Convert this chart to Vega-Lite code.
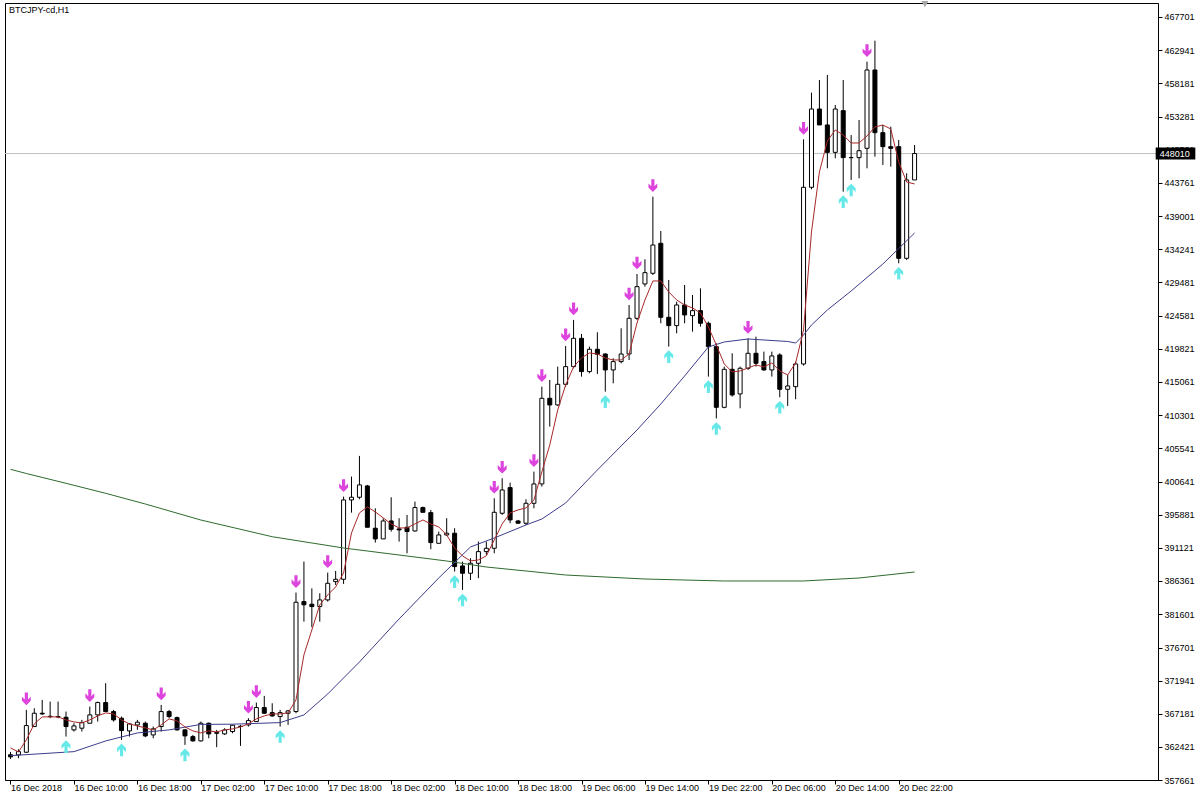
{
  "$schema": "https://vega.github.io/schema/vega-lite/v6.json",
  "width": 1153,
  "height": 777,
  "autosize": {"type": "none"},
  "padding": {"left": 5, "top": 3, "right": 46, "bottom": 20},
  "background": "#ffffff",
  "title": {"text": "BTCJPY-cd,H1", "anchor": "start", "frame": "group", "orient": "top", "offset": -14, "dx": 4, "fontSize": 9, "font": "Liberation Sans", "fontWeight": "normal", "color": "#000000"},
  "config": {"view": {"stroke": "#000000", "strokeWidth": 1}, "axis": {"grid": false, "labelOverlap": false}, "font": "Liberation Sans"},
  "datasets": {
    "candles": [
      {"i":0,"o":361300,"h":361700,"l":360700,"c":361000},
      {"i":1,"o":361280,"h":362100,"l":360800,"c":361760},
      {"i":2,"o":361665,"h":367770,"l":361600,"c":365510,"sig":"dn"},
      {"i":3,"o":365370,"h":368010,"l":365300,"c":367290},
      {"i":4,"o":367290,"h":369210,"l":367050,"c":367190},
      {"i":5,"o":366850,"h":368970,"l":366570,"c":366810},
      {"i":6,"o":366810,"h":368970,"l":366570,"c":366760},
      {"i":7,"o":366710,"h":367530,"l":363920,"c":365370,"sig":"up"},
      {"i":8,"o":364890,"h":365850,"l":364650,"c":365460},
      {"i":9,"o":365130,"h":366330,"l":364650,"c":365940},
      {"i":10,"o":365850,"h":368250,"l":365850,"c":367050,"sig":"dn"},
      {"i":11,"o":367050,"h":368970,"l":366090,"c":368830},
      {"i":12,"o":368830,"h":371620,"l":367530,"c":367530},
      {"i":13,"o":367530,"h":367770,"l":366090,"c":366330},
      {"i":14,"o":366570,"h":366810,"l":363440,"c":364790,"sig":"up"},
      {"i":15,"o":364740,"h":365850,"l":363920,"c":365750},
      {"i":16,"o":365600,"h":366330,"l":364890,"c":365990},
      {"i":17,"o":365850,"h":366090,"l":363830,"c":364020},
      {"i":18,"o":364160,"h":365370,"l":363680,"c":365030},
      {"i":19,"o":365370,"h":368490,"l":364650,"c":367530,"sig":"dn"},
      {"i":20,"o":367530,"h":367770,"l":366570,"c":366810},
      {"i":21,"o":366660,"h":366810,"l":364790,"c":364890},
      {"i":22,"o":364890,"h":364980,"l":362720,"c":364020,"sig":"up"},
      {"i":23,"o":363920,"h":364160,"l":363200,"c":363300},
      {"i":24,"o":363300,"h":366090,"l":363200,"c":365850},
      {"i":25,"o":365850,"h":365940,"l":363680,"c":364310},
      {"i":26,"o":364500,"h":364890,"l":362390,"c":364400},
      {"i":27,"o":364310,"h":365130,"l":364160,"c":364890},
      {"i":28,"o":364650,"h":365610,"l":364400,"c":365560},
      {"i":29,"o":365370,"h":365610,"l":362580,"c":365410},
      {"i":30,"o":365610,"h":366570,"l":365370,"c":366230,"sig":"dn"},
      {"i":31,"o":366090,"h":368830,"l":366090,"c":368110,"sig":"dn"},
      {"i":32,"o":368110,"h":369790,"l":367190,"c":367290},
      {"i":33,"o":367380,"h":368730,"l":366810,"c":366900},
      {"i":34,"o":366810,"h":367770,"l":365370,"c":367380,"sig":"up"},
      {"i":35,"o":367290,"h":367770,"l":365610,"c":367630},
      {"i":36,"o":367530,"h":384690,"l":367290,"c":383300,"sig":"dn"},
      {"i":37,"o":383390,"h":389160,"l":380500,"c":382930},
      {"i":38,"o":383010,"h":385300,"l":379700,"c":382670},
      {"i":39,"o":382670,"h":384590,"l":380500,"c":383630},
      {"i":40,"o":383630,"h":387570,"l":383390,"c":386030,"sig":"dn"},
      {"i":41,"o":386270,"h":387810,"l":385790,"c":386610},
      {"i":42,"o":386610,"h":398530,"l":385940,"c":398050,"sig":"dn"},
      {"i":43,"o":398050,"h":401420,"l":396220,"c":398440},
      {"i":44,"o":398440,"h":404400,"l":398150,"c":400220},
      {"i":45,"o":400070,"h":400220,"l":394110,"c":394110},
      {"i":46,"o":393970,"h":396850,"l":391900,"c":392430},
      {"i":47,"o":392430,"h":395410,"l":392430,"c":395020},
      {"i":48,"o":395020,"h":398440,"l":393490,"c":393820},
      {"i":49,"o":393870,"h":395410,"l":392040,"c":393730},
      {"i":50,"o":394110,"h":395890,"l":390360,"c":393490},
      {"i":51,"o":393580,"h":397810,"l":393490,"c":396950},
      {"i":52,"o":396950,"h":397090,"l":396270,"c":396270},
      {"i":53,"o":396220,"h":396610,"l":390940,"c":391900},
      {"i":54,"o":391800,"h":393490,"l":391800,"c":393000},
      {"i":55,"o":393000,"h":395410,"l":392860,"c":393250},
      {"i":56,"o":393250,"h":393970,"l":387720,"c":388440,"sig":"up"},
      {"i":57,"o":388530,"h":389160,"l":385070,"c":387480,"sig":"up"},
      {"i":58,"o":387480,"h":389640,"l":386510,"c":388920},
      {"i":59,"o":388920,"h":392040,"l":386760,"c":390600},
      {"i":60,"o":390600,"h":392040,"l":390120,"c":391080},
      {"i":61,"o":391080,"h":398290,"l":390360,"c":396270,"sig":"dn"},
      {"i":62,"o":396130,"h":401180,"l":395890,"c":399490,"sig":"dn"},
      {"i":63,"o":399830,"h":400550,"l":394690,"c":395170},
      {"i":64,"o":395020,"h":395170,"l":394690,"c":394690},
      {"i":65,"o":394690,"h":398150,"l":394450,"c":397570},
      {"i":66,"o":397570,"h":402140,"l":396850,"c":400360,"sig":"dn"},
      {"i":67,"o":400360,"h":414390,"l":399970,"c":412710,"sig":"dn"},
      {"i":68,"o":412710,"h":415360,"l":408630,"c":411750},
      {"i":69,"o":411750,"h":417280,"l":411610,"c":414730},
      {"i":70,"o":414730,"h":420260,"l":414390,"c":417280,"sig":"dn"},
      {"i":71,"o":417280,"h":424010,"l":417040,"c":421360,"sig":"dn"},
      {"i":72,"o":421360,"h":421990,"l":415830,"c":416560},
      {"i":73,"o":416560,"h":420160,"l":416320,"c":419780},
      {"i":74,"o":419780,"h":422230,"l":416220,"c":419060},
      {"i":75,"o":419100,"h":419200,"l":413670,"c":416800,"sig":"up"},
      {"i":76,"o":416800,"h":418480,"l":414870,"c":418000},
      {"i":77,"o":418000,"h":422810,"l":417760,"c":419100},
      {"i":78,"o":419100,"h":426170,"l":418240,"c":424250,"sig":"dn"},
      {"i":79,"o":424250,"h":430640,"l":424010,"c":428810,"sig":"dn"},
      {"i":80,"o":429200,"h":432760,"l":428810,"c":430830},
      {"i":81,"o":430740,"h":441790,"l":430500,"c":434820,"sig":"dn"},
      {"i":82,"o":435060,"h":436840,"l":423530,"c":424390},
      {"i":83,"o":424390,"h":429780,"l":420160,"c":423190,"sig":"up"},
      {"i":84,"o":423190,"h":426650,"l":422080,"c":426170},
      {"i":85,"o":426170,"h":429050,"l":423530,"c":424730},
      {"i":86,"o":424630,"h":427610,"l":422320,"c":425350},
      {"i":87,"o":425350,"h":428570,"l":423050,"c":423530},
      {"i":88,"o":423530,"h":423770,"l":415830,"c":420160,"sig":"up"},
      {"i":89,"o":420160,"h":420640,"l":409800,"c":411410,"sig":"up"},
      {"i":90,"o":411410,"h":417280,"l":411270,"c":416890},
      {"i":91,"o":416890,"h":419200,"l":412950,"c":413190},
      {"i":92,"o":413340,"h":417280,"l":411270,"c":417040},
      {"i":93,"o":417040,"h":421360,"l":416800,"c":419200,"sig":"dn"},
      {"i":94,"o":419200,"h":421600,"l":417280,"c":417760},
      {"i":95,"o":418000,"h":419440,"l":416700,"c":416800},
      {"i":96,"o":416800,"h":419440,"l":415840,"c":418820},
      {"i":97,"o":418960,"h":419200,"l":412860,"c":414010,"sig":"up"},
      {"i":98,"o":414010,"h":416080,"l":411610,"c":414490},
      {"i":99,"o":414390,"h":418000,"l":412570,"c":417660},
      {"i":100,"o":417660,"h":450060,"l":417420,"c":443140,"sig":"dn"},
      {"i":101,"o":443140,"h":456790,"l":442850,"c":454430},
      {"i":102,"o":454430,"h":458620,"l":452130,"c":452130},
      {"i":103,"o":452130,"h":459340,"l":445880,"c":448180},
      {"i":104,"o":448180,"h":455010,"l":447320,"c":454430},
      {"i":105,"o":454190,"h":458620,"l":442510,"c":447420,"sig":"up"},
      {"i":106,"o":447420,"h":450680,"l":444200,"c":447420,"sig":"up"},
      {"i":107,"o":447420,"h":452850,"l":444440,"c":448420},
      {"i":108,"o":448760,"h":461260,"l":445880,"c":460060,"sig":"dn"},
      {"i":109,"o":460060,"h":464290,"l":447560,"c":451020},
      {"i":110,"o":451020,"h":452130,"l":446360,"c":449000},
      {"i":111,"o":449000,"h":451890,"l":446120,"c":448760},
      {"i":112,"o":449000,"h":449960,"l":432180,"c":432900,"sig":"up"},
      {"i":113,"o":432900,"h":445160,"l":432660,"c":444200},
      {"i":114,"o":444200,"h":449240,"l":444200,"c":448010}
    ],
    "ma": [
      {"s":"green","i":0,"v":402470},{"s":"green","i":2,"v":401864},{"s":"green","i":7,"v":400451},{"s":"green","i":12,"v":399008},{"s":"green","i":17,"v":397465},{"s":"green","i":24,"v":395158},{"s":"green","i":33,"v":392749},{"s":"green","i":42,"v":391120},{"s":"green","i":50,"v":389966},{"s":"green","i":55,"v":389245},{"s":"green","i":60,"v":388379},{"s":"green","i":70,"v":387226},{"s":"green","i":80,"v":386649},{"s":"green","i":90,"v":386361},{"s":"green","i":100,"v":386361},{"s":"green","i":107,"v":386793},{"s":"green","i":114,"v":387658},
      {"s":"blue","i":0,"v":361174},{"s":"blue","i":8,"v":361751},{"s":"blue","i":12,"v":363294},{"s":"blue","i":16,"v":364448},{"s":"blue","i":20,"v":364886},{"s":"blue","i":24,"v":365679},{"s":"blue","i":28,"v":365708},{"s":"blue","i":34,"v":365939},{"s":"blue","i":37,"v":367040},{"s":"blue","i":40,"v":370069},{"s":"blue","i":44,"v":374684},{"s":"blue","i":49,"v":380885},{"s":"blue","i":54,"v":386797},{"s":"blue","i":58,"v":391268},{"s":"blue","i":61,"v":392566},{"s":"blue","i":65,"v":394440},{"s":"blue","i":67,"v":395300},{"s":"blue","i":70,"v":397613},{"s":"blue","i":74,"v":402372},{"s":"blue","i":79,"v":408140},{"s":"blue","i":82,"v":411890},{"s":"blue","i":85,"v":415928},{"s":"blue","i":88,"v":420110},{"s":"blue","i":90,"v":420831},{"s":"blue","i":93,"v":421264},{"s":"blue","i":98,"v":420903},{"s":"blue","i":99,"v":420687},{"s":"blue","i":100,"v":421841},{"s":"blue","i":101,"v":423283},{"s":"blue","i":103,"v":425446},{"s":"blue","i":106,"v":428186},{"s":"blue","i":110,"v":432080},{"s":"blue","i":114,"v":436551},
      {"s":"red","i":0,"v":362290},{"s":"red","i":1,"v":361713},{"s":"red","i":2,"v":363444},{"s":"red","i":3,"v":365751},{"s":"red","i":4,"v":366761},{"s":"red","i":5,"v":366761},{"s":"red","i":6,"v":366761},{"s":"red","i":7,"v":366328},{"s":"red","i":8,"v":366040},{"s":"red","i":9,"v":365896},{"s":"red","i":10,"v":366328},{"s":"red","i":11,"v":366905},{"s":"red","i":12,"v":367338},{"s":"red","i":13,"v":367194},{"s":"red","i":14,"v":366328},{"s":"red","i":15,"v":365751},{"s":"red","i":16,"v":365463},{"s":"red","i":17,"v":365174},{"s":"red","i":18,"v":364886},{"s":"red","i":19,"v":365607},
      {"s":"red","i":20,"v":366472},{"s":"red","i":21,"v":366184},{"s":"red","i":22,"v":365318},{"s":"red","i":23,"v":364741},{"s":"red","i":24,"v":364453},{"s":"red","i":25,"v":364741},{"s":"red","i":26,"v":364597},{"s":"red","i":27,"v":364886},{"s":"red","i":28,"v":365030},{"s":"red","i":29,"v":365318},{"s":"red","i":30,"v":365751},{"s":"red","i":31,"v":366472},{"s":"red","i":32,"v":366905},{"s":"red","i":33,"v":367194},{"s":"red","i":34,"v":367194},{"s":"red","i":35,"v":367338},{"s":"red","i":36,"v":369212},{"s":"red","i":37,"v":375701},{"s":"red","i":38,"v":379306},{"s":"red","i":39,"v":382911},
      {"s":"red","i":40,"v":384353},{"s":"red","i":41,"v":385507},{"s":"red","i":42,"v":387526},{"s":"red","i":43,"v":393294},{"s":"red","i":44,"v":396178},{"s":"red","i":45,"v":397043},{"s":"red","i":46,"v":396322},{"s":"red","i":47,"v":395457},{"s":"red","i":48,"v":394592},{"s":"red","i":49,"v":394015},{"s":"red","i":50,"v":394015},{"s":"red","i":51,"v":394592},{"s":"red","i":52,"v":395168},{"s":"red","i":53,"v":394592},{"s":"red","i":54,"v":394159},{"s":"red","i":55,"v":393006},{"s":"red","i":56,"v":391131},{"s":"red","i":57,"v":389978},{"s":"red","i":58,"v":389257},{"s":"red","i":59,"v":389400},
      {"s":"red","i":60,"v":389978},{"s":"red","i":61,"v":392285},{"s":"red","i":62,"v":394592},{"s":"red","i":63,"v":396178},{"s":"red","i":64,"v":396610},{"s":"red","i":65,"v":396899},{"s":"red","i":66,"v":398052},{"s":"red","i":67,"v":402090},{"s":"red","i":68,"v":405983},{"s":"red","i":69,"v":411030},{"s":"red","i":70,"v":414635},{"s":"red","i":71,"v":417231},{"s":"red","i":72,"v":418528},{"s":"red","i":73,"v":419249},{"s":"red","i":74,"v":419105},{"s":"red","i":75,"v":418528},{"s":"red","i":76,"v":418240},{"s":"red","i":77,"v":418240},{"s":"red","i":78,"v":419105},{"s":"red","i":79,"v":423575},
      {"s":"red","i":80,"v":426892},{"s":"red","i":81,"v":429632},{"s":"red","i":82,"v":429632},{"s":"red","i":83,"v":428046},{"s":"red","i":84,"v":426892},{"s":"red","i":85,"v":426171},{"s":"red","i":86,"v":425739},{"s":"red","i":87,"v":425018},{"s":"red","i":88,"v":423000},{"s":"red","i":89,"v":420404},{"s":"red","i":90,"v":417664},{"s":"red","i":91,"v":416510},{"s":"red","i":92,"v":416654},{"s":"red","i":93,"v":417087},{"s":"red","i":94,"v":417519},{"s":"red","i":95,"v":417231},{"s":"red","i":96,"v":417808},{"s":"red","i":97,"v":416654},{"s":"red","i":98,"v":416077},{"s":"red","i":99,"v":417808},
      {"s":"red","i":100,"v":422566},{"s":"red","i":101,"v":436698},{"s":"red","i":102,"v":445350},{"s":"red","i":103,"v":449820},{"s":"red","i":104,"v":451406},{"s":"red","i":105,"v":450685},{"s":"red","i":106,"v":449532},{"s":"red","i":107,"v":449532},{"s":"red","i":108,"v":450541},{"s":"red","i":109,"v":451839},{"s":"red","i":110,"v":452126},{"s":"red","i":111,"v":451550},{"s":"red","i":112,"v":446790},{"s":"red","i":113,"v":443908},{"s":"red","i":114,"v":443620}
    ],
    "bid": [{"p": 448010, "label": "448010"}]
  },
  "layer": [
    {
      "data": {"name": "bid"},
      "mark": {"type": "rule", "color": "#c0c0c0", "strokeWidth": 1},
      "encoding": {
        "y": {"field": "p", "type": "quantitative", "scale": {"domain": [357661, 469720], "nice": false, "zero": false},
          "axis": {"orient": "right", "values": [467701,462941,458181,453281,448521,443761,439001,434241,429481,424581,419821,415061,410301,405541,400641,395881,391121,386361,381601,376701,371941,367181,362421,357661], "tickCount": 40, "title": null, "tickSize": 4, "tickColor": "#000000", "domainColor": "#000000", "labelPadding": 2, "labelFontSize": 9, "labelFont": "Liberation Sans", "labelColor": "#000000", "labelBaseline": "middle", "labelFlush": false, "labelOverlap": false, "format": "d"}}
      }
    },
    {
      "data": {"name": "candles"},
      "mark": {"type": "rule", "color": "#000000", "strokeWidth": 1},
      "encoding": {
        "x": {"field": "i", "type": "quantitative", "scale": {"domain": [-0.0625, 144.0625], "nice": false, "zero": false},
          "axis": {"orient": "bottom", "values": [0,8,16,24,32,40,48,56,64,72,80,88,96,104,112], "tickCount": 40, "title": null, "tickSize": 4, "tickColor": "#000000", "domainColor": "#000000", "labelAlign": "left", "labelPadding": -1, "labelFontSize": 9, "labelFont": "Liberation Sans", "labelColor": "#000000", "labelFlush": false, "labelOverlap": false,
            "labelExpr": "['16 Dec 2018','16 Dec 10:00','16 Dec 18:00','17 Dec 02:00','17 Dec 10:00','17 Dec 18:00','18 Dec 02:00','18 Dec 10:00','18 Dec 18:00','19 Dec 06:00','19 Dec 14:00','19 Dec 22:00','20 Dec 06:00','20 Dec 14:00','20 Dec 22:00'][round(datum.value/8)]"}},
        "y": {"field": "l", "type": "quantitative"},
        "y2": {"field": "h"}
      }
    },
    {
      "data": {"name": "candles"},
      "mark": {"type": "bar", "width": 4, "stroke": "#000000", "strokeWidth": 1},
      "encoding": {
        "x": {"field": "i", "type": "quantitative"},
        "y": {"field": "o", "type": "quantitative"},
        "y2": {"field": "c"},
        "fill": {"condition": {"test": "datum.c >= datum.o", "value": "#ffffff"}, "value": "#000000"}
      }
    },
    {
      "data": {"name": "ma"},
      "mark": {"type": "line", "strokeWidth": 1, "interpolate": "linear"},
      "encoding": {
        "x": {"field": "i", "type": "quantitative"},
        "y": {"field": "v", "type": "quantitative"},
        "color": {"field": "s", "type": "nominal", "scale": {"domain": ["green", "blue", "red"], "range": ["#2e6b2e", "#3c3c8c", "#a82828"]}, "legend": null},
        "order": {"field": "i", "type": "quantitative"}
      }
    },
    {
      "data": {"name": "candles"},
      "transform": [{"filter": "datum.sig == 'dn'"}],
      "mark": {"type": "point", "filled": true, "size": 160, "yOffset": -11, "color": "#dd44dd", "opacity": 1,
        "shape": "M-0.25,-1 L0.25,-1 L0.25,0.1 L0.7,-0.35 L0.7,0.3 L0,1 L-0.7,0.3 L-0.7,-0.35 L-0.25,0.1 Z"},
      "encoding": {"x": {"field": "i", "type": "quantitative"}, "y": {"field": "h", "type": "quantitative"}}
    },
    {
      "data": {"name": "candles"},
      "transform": [{"filter": "datum.sig == 'up'"}],
      "mark": {"type": "point", "filled": true, "size": 160, "yOffset": 10, "color": "#66e8e8", "opacity": 1,
        "shape": "M-0.25,1 L0.25,1 L0.25,-0.1 L0.7,0.35 L0.7,-0.3 L0,-1 L-0.7,-0.3 L-0.7,0.35 L-0.25,-0.1 Z"},
      "encoding": {"x": {"field": "i", "type": "quantitative"}, "y": {"field": "l", "type": "quantitative"}}
    },
    {
      "data": {"name": "bid"},
      "mark": {"type": "rect", "color": "#000000", "clip": false},
      "encoding": {
        "x": {"datum": 144.4, "type": "quantitative"},
        "x2": {"datum": 149.4},
        "y": {"datum": 448880, "type": "quantitative"},
        "y2": {"datum": 447150}
      }
    },
    {
      "data": {"name": "bid"},
      "mark": {"type": "text", "color": "#ffffff", "font": "Liberation Sans", "fontSize": 9, "align": "left", "baseline": "middle", "dx": 4, "clip": false},
      "encoding": {
        "x": {"datum": 144.4, "type": "quantitative"},
        "y": {"field": "p", "type": "quantitative"},
        "text": {"field": "label"}
      }
    },
    {
      "data": {"name": "bid"},
      "mark": {"type": "point", "shape": "triangle-down", "filled": true, "color": "#a8a8a8", "size": 50, "opacity": 1, "clip": false},
      "encoding": {
        "x": {"datum": 115.3, "type": "quantitative"},
        "y": {"datum": 469560, "type": "quantitative"}
      }
    }
  ]
}
